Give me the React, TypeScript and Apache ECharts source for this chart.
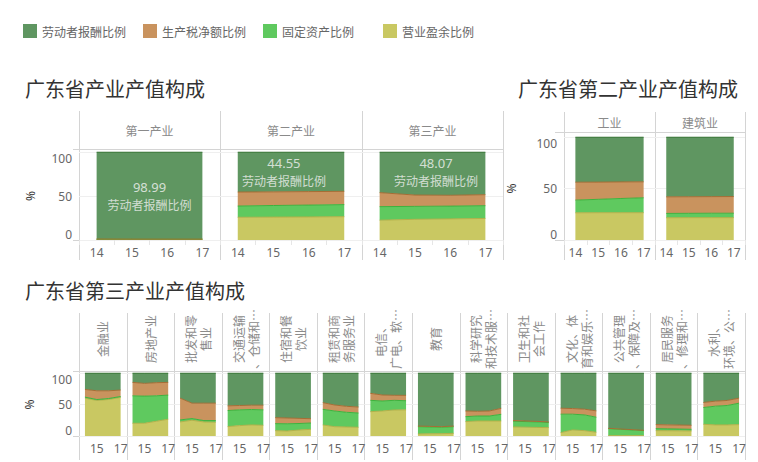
import React, { useEffect, useRef } from "react";
import * as echarts from "echarts";

const years = ["14", "15", "16", "17"];
const seriesNames = ["劳动者报酬比例", "生产税净额比例", "固定资产比例", "营业盈余比例"];
const fillColors = ["#5f9661", "#c9935e", "#5fc95f", "#c9c862"];
const lineColors = ["#2e6b2b", "#a66d34", "#3db23d", "#b3b149"];

const titles = ["广东省产业产值构成", "广东省第二产业产值构成", "广东省第三产业产值构成"];

// Chart 1: 广东省产业产值构成
const c1Names = ["第一产业", "第二产业", "第三产业"];
const c1Labor = [
  [98.9, 99.0, 99.0, 99.0],
  [45.5, 45.3, 45.0, 44.7],
  [46.2, 48.9, 49.2, 48.5],
];
const c1Tax = [
  [0.2, 0.1, 0.1, 0.1],
  [15.9, 15.5, 15.3, 15.1],
  [15.9, 12.9, 12.3, 12.5],
];
const c1Fixed = [
  [0.3, 0.3, 0.3, 0.3],
  [12.8, 13.2, 13.5, 13.7],
  [15.4, 14.7, 14.5, 14.5],
];
const c1Surplus = [
  [0.6, 0.6, 0.6, 0.6],
  [25.8, 26.0, 26.2, 26.5],
  [22.5, 23.5, 24.0, 24.5],
];
const c1LabelValues = ["98.99", "44.55", "48.07"];
const c1LabelX = [15.5, 15.3, 15.6];
const c1LabelY = [50.5, 77.8, 77.3];

// Chart 2: 广东省第二产业产值构成
const c2Names = ["工业", "建筑业"];
const c2Labor = [
  [43.9, 43.8, 43.6, 43.5],
  [58.1, 58.0, 57.9, 57.8],
];
const c2Tax = [
  [17.4, 16.7, 16.1, 15.5],
  [16.1, 16.1, 16.1, 16.2],
];
const c2Fixed = [
  [12.3, 13.0, 13.8, 14.5],
  [4.2, 4.2, 4.3, 4.3],
];
const c2Surplus = [
  [26.4, 26.5, 26.5, 26.5],
  [21.6, 21.7, 21.7, 21.7],
];

// Chart 3: 广东省第三产业产值构成
const c3Names = [
  "金融业",
  "房地产业",
  "批发和零\n售业",
  "交通运输\n、仓储和…",
  "住宿和餐\n饮业",
  "租赁和商\n务服务业",
  "电信、\n广电、软…",
  "教育",
  "科学研究\n和技术服…",
  "卫生和社\n会工作",
  "文化、体\n育和娱乐…",
  "公共管理\n、保障及…",
  "居民服务\n、修理和…",
  "水利、\n环境、公…",
];
const c3Labor = [
  [26.1, 28.2, 28.2, 27.1],
  [14.9, 16.5, 15.4, 14.9],
  [39.9, 47.9, 47.9, 47.9],
  [52.1, 51.6, 51.1, 51.1],
  [70.9, 71.4, 72.0, 72.5],
  [47.1, 50.8, 52.9, 54.0],
  [32.3, 34.9, 35.4, 35.5],
  [84.2, 84.7, 85.2, 84.2],
  [60.3, 60.8, 60.3, 56.1],
  [75.5, 76.1, 76.8, 77.7],
  [55.9, 56.4, 57.4, 60.1],
  [87.8, 88.9, 89.9, 91.0],
  [81.9, 82.3, 82.6, 83.0],
  [46.8, 44.7, 43.6, 39.9],
];
const c3Tax = [
  [12.2, 13.9, 12.3, 10.2],
  [21.3, 20.2, 20.8, 20.2],
  [34.6, 24.4, 27.6, 27.6],
  [7.5, 6.9, 6.9, 7.4],
  [9.5, 9.2, 8.2, 6.9],
  [10.6, 9.5, 9.5, 9.5],
  [11.1, 9.5, 8.0, 8.5],
  [1.0, 1.0, 1.0, 1.0],
  [9.0, 7.5, 8.0, 9.5],
  [1.1, 1.0, 0.9, 1.0],
  [9.5, 9.0, 9.1, 10.1],
  [0.5, 0.5, 0.5, 0.5],
  [6.4, 6.4, 6.4, 6.4],
  [8.0, 8.0, 8.0, 8.0],
];
const c3Fixed = [
  [1.6, 1.5, 1.5, 1.5],
  [43.6, 43.1, 40.4, 38.3],
  [3.2, 2.7, 2.2, 2.7],
  [25.5, 25.0, 24.4, 24.5],
  [11.1, 11.5, 10.3, 10.0],
  [24.8, 24.9, 23.3, 22.7],
  [18.0, 15.9, 15.3, 14.5],
  [11.6, 10.8, 10.1, 10.6],
  [7.9, 7.9, 7.9, 10.6],
  [9.0, 8.9, 8.7, 8.0],
  [29.3, 25.0, 25.0, 23.9],
  [11.2, 10.1, 9.1, 8.0],
  [3.2, 2.9, 2.8, 2.6],
  [26.6, 29.7, 30.8, 34.0],
];
const c3Surplus = [
  [60.1, 56.4, 58.0, 61.2],
  [20.2, 20.2, 23.4, 26.6],
  [22.3, 25.0, 22.3, 21.8],
  [14.9, 16.5, 17.6, 17.0],
  [8.5, 7.9, 9.5, 10.6],
  [17.5, 14.8, 14.3, 13.8],
  [38.6, 39.7, 41.3, 41.5],
  [3.2, 3.5, 3.7, 4.2],
  [22.8, 23.8, 23.8, 23.8],
  [14.4, 14.0, 13.6, 13.3],
  [5.3, 9.6, 8.5, 5.9],
  [0.5, 0.5, 0.5, 0.5],
  [8.5, 8.4, 8.2, 8.0],
  [18.6, 17.6, 17.6, 18.1],
];

const CJK = '"Noto Sans CJK SC", sans-serif';
const NUM = '"Noto Sans", "Open Sans", sans-serif';
const LINE = "#d4d4d4";

function buildOption() {
  const grids: any[] = [];
  const xAxes: any[] = [];
  const yAxes: any[] = [];
  const series: any[] = [];
  const graphic: any[] = [];

  const charts = [
    {
      names: c1Names, labor: c1Labor, tax: c1Tax, fixed: c1Fixed, surplus: c1Surplus,
      bounds: [79, 220, 362, 503], top: 152, bottom: 240,
      headerTop: 111, headerBottom: 149, lineBottom: 260, axisLeft: 73,
      headerY: 130, nameGap: 43, rotateHeader: false, everyLabel: true,
      titleX: 25, titleY: 88,
    },
    {
      names: c2Names, labor: c2Labor, tax: c2Tax, fixed: c2Fixed, surplus: c2Surplus,
      bounds: [564, 655, 745], top: 137, bottom: 240,
      headerTop: 112, headerBottom: 132, lineBottom: 260, axisLeft: 555,
      headerY: 122, nameGap: 47, rotateHeader: false, everyLabel: true,
      titleX: 518, titleY: 88,
    },
    {
      names: c3Names, labor: c3Labor, tax: c3Tax, fixed: c3Fixed, surplus: c3Surplus,
      bounds: Array.from({ length: 15 }, (_, i) => 79 + (i * 666) / 14), top: 373, bottom: 436,
      headerTop: 313, headerBottom: 371, lineBottom: 460, axisLeft: 73,
      headerY: 339, nameGap: 44, rotateHeader: true, everyLabel: false,
      titleX: 25, titleY: 290,
    },
  ];

  let gi = 0;
  const labelGrids: number[] = [];
  charts.forEach((c, ci) => {
    graphic.push({
      type: "text", x: c.titleX, y: c.titleY, silent: true,
      style: { text: titles[ci], fontSize: 20, fontFamily: CJK, fill: "#333", verticalAlign: "middle", align: "left" },
    });
    const last = c.bounds[c.bounds.length - 1];
    // structure lines
    c.bounds.forEach((bx) => {
      const x = Math.round(bx) + 0.5;
      graphic.push({ type: "line", silent: true, shape: { x1: x, y1: c.headerTop, x2: x, y2: c.lineBottom }, style: { stroke: LINE, lineWidth: 1 } });
    });
    graphic.push({ type: "line", silent: true, shape: { x1: c.axisLeft, y1: c.headerBottom + 0.5, x2: Math.round(last) + 0.5, y2: c.headerBottom + 0.5 }, style: { stroke: LINE, lineWidth: 1 } });
    graphic.push({ type: "line", silent: true, shape: { x1: c.axisLeft, y1: c.bottom + 0.5, x2: Math.round(last) + 0.5, y2: c.bottom + 0.5 }, style: { stroke: LINE, lineWidth: 1 } });

    c.names.forEach((nm, pi) => {
      const left = c.bounds[pi];
      const width = c.bounds[pi + 1] - left;
      const cx = left + width / 2;
      if (c.rotateHeader) {
        graphic.push({
          type: "text", x: cx, y: c.headerY, rotation: Math.PI / 2, silent: true,
          style: { text: nm, fontSize: 12, lineHeight: 15, fontFamily: CJK, fill: "#8a8a8a", align: "center", verticalAlign: "middle" },
        });
      } else {
        graphic.push({
          type: "text", x: cx, y: c.headerY, silent: true,
          style: { text: nm, fontSize: 12, fontFamily: CJK, fill: "#8a8a8a", align: "center", verticalAlign: "middle" },
        });
      }
      grids.push({ left, width, top: c.top, height: c.bottom - c.top, containLabel: false });
      const first = pi === 0;
      xAxes.push({
        type: "category", gridIndex: gi, data: years, boundaryGap: true,
        axisLine: { show: false },
        axisTick: { show: c.everyLabel, length: 5, lineStyle: { color: "#e6e6e6" } },
        axisLabel: {
          color: "#666", fontSize: 12, fontFamily: NUM, margin: 6,
          interval: c.everyLabel ? 0 : (idx: number) => idx % 2 === 1,
        },
        splitLine: { show: false },
      });
      yAxes.push({
        type: "value", gridIndex: gi, min: 0, max: 100, interval: 50,
        axisLine: { show: false }, axisTick: { show: false },
        axisLabel: {
          show: first, color: "#666", fontSize: 12, fontFamily: NUM, margin: 7,
          verticalAlignMaxLabel: "top", verticalAlignMinLabel: "bottom",
        },
        splitLine: { show: true, lineStyle: { color: "#efefef" } },
        name: first ? "%" : "", nameLocation: "middle", nameGap: c.nameGap, nameRotate: 90,
        nameTextStyle: { color: "#333", fontSize: 12, fontFamily: NUM },
      });
      const vals = [c.labor[pi], c.tax[pi], c.fixed[pi], c.surplus[pi]];
      [3, 2, 1, 0].forEach((k) => {
        series.push({
          type: "line", name: seriesNames[k], xAxisIndex: gi, yAxisIndex: gi, stack: "s" + gi,
          data: vals[k], symbol: "none", showSymbol: false, silent: true,
          lineStyle: { color: lineColors[k], width: 1 },
          itemStyle: { color: fillColors[k] },
          areaStyle: { color: fillColors[k], opacity: 1 },
          emphasis: { disabled: true },
        });
      });
      if (ci === 0) labelGrids.push(gi);
      gi++;
    });
  });

  // hidden value axes for the mark labels in chart 1
  labelGrids.forEach((g, i) => {
    const axisIdx = xAxes.length;
    xAxes.push({ type: "value", gridIndex: g, min: 13.5, max: 17.5, show: false });
    series.push({
      type: "scatter", name: "label" + i, xAxisIndex: axisIdx, yAxisIndex: g,
      data: [[c1LabelX[i], c1LabelY[i]]], symbolSize: 1, silent: true, z: 5,
      itemStyle: { color: "rgba(0,0,0,0)" },
      label: {
        show: true, position: "inside",
        formatter: () => `{n|${c1LabelValues[i]}}\n{t|${seriesNames[0]}}`,
        rich: {
          n: { fontSize: 13, color: "#f4f4f4", fontFamily: NUM, lineHeight: 17, align: "center" },
          t: { fontSize: 12, color: "#f0f0f0", fontFamily: CJK, lineHeight: 17, align: "center" },
        },
      },
      labelLayout: { hideOverlap: false },
    });
  });

  const legend = seriesNames.map((nm, i) => ({
    left: 23 + i * 120, top: 24, padding: 0, itemWidth: 14, itemHeight: 14, icon: "rect",
    data: [{ name: nm, icon: "rect", itemStyle: { color: fillColors[i], borderWidth: 0 } }],
    textStyle: { fontSize: 12, color: "#666", fontFamily: CJK },
  }));

  return {
    animation: false,
    backgroundColor: "#fff",
    legend,
    grid: grids,
    xAxis: xAxes,
    yAxis: yAxes,
    series,
    graphic,
  };
}

export default function App() {
  const ref = useRef<HTMLDivElement>(null);
  useEffect(() => {
    if (!ref.current) return;
    const chart = echarts.init(ref.current, undefined, { renderer: "svg" });
    chart.setOption(buildOption() as any);
    return () => chart.dispose();
  }, []);
  return (
    <div
      ref={ref}
      style={{ position: "fixed", left: 0, top: 0, width: 758, height: 462, background: "#fff" }}
    />
  );
}
